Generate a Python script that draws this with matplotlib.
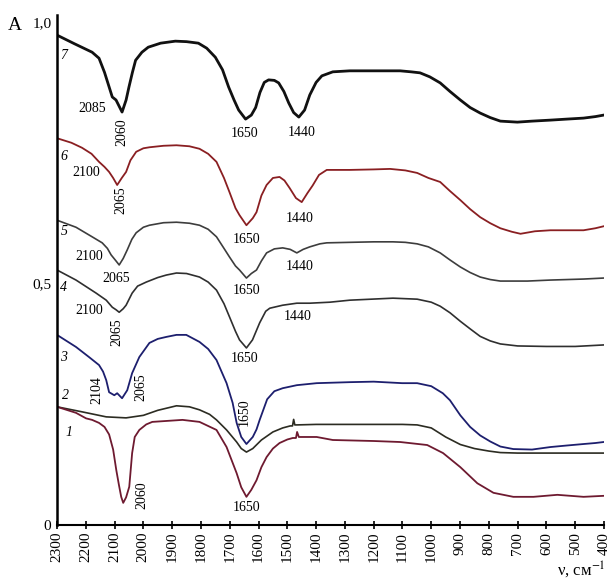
import matplotlib.pyplot as plt
import numpy as np

plt.rcParams['font.family'] = ['Liberation Serif', 'DejaVu Serif']
plt.rcParams['mathtext.fontset'] = 'stix'

# spectra: wavenumber (cm-1) and absorbance
wn7 = [2300, 2240, 2178, 2154, 2135, 2119, 2108, 2095, 2074, 2060, 2050, 2038, 2027, 2005, 1983,
       1940, 1889, 1850, 1809, 1780, 1750, 1725, 1704, 1685, 1669, 1645, 1625, 1610, 1595, 1580,
       1565, 1545, 1530, 1512, 1495, 1478, 1460, 1440, 1422, 1400, 1380, 1342, 1283, 1200, 1108,
       1070, 1039, 1005, 969, 935, 899, 865, 830, 795, 760, 701, 650, 586, 530, 471, 430, 401]
a7 = [.974, .957, .940, .928, .900, .871, .851, .845, .821, .845, .871, .900, .924, .940, .950,
      .958, .962, .961, .958, .948, .930, .905, .871, .845, .825, .807, .815, .830, .860, .880,
      .885, .884, .879, .862, .839, .820, .811, .825, .855, .880, .893, .901, .903, .903, .903,
      .901, .899, .891, .879, .862, .845, .830, .819, .810, .803, .801, .803, .805, .807, .809, .812, .815]

wn6 = [2300, 2250, 2213, 2180, 2154, 2135, 2119, 2105, 2091, 2075, 2060, 2045, 2025, 2000, 1979,
       1930, 1885, 1840, 1805, 1775, 1746, 1720, 1701, 1680, 1666, 1642, 1620, 1607, 1590, 1572,
       1550, 1527, 1510, 1492, 1470, 1450, 1430, 1412, 1390, 1363, 1283, 1200, 1143, 1090, 1049,
       1010, 969, 935, 899, 865, 830, 795, 760, 720, 690, 640, 586, 530, 471, 430, 401]
a6 = [.769, .760, .750, .738, .722, .712, .702, .690, .676, .690, .702, .725, .742, .749, .751,
      .754, .755, .753, .748, .738, .722, .690, .662, .630, .616, .596, .610, .622, .655, .676,
      .690, .692, .685, .670, .650, .642, .660, .675, .696, .706, .706, .707, .708, .705, .700,
      .690, .682, .664, .646, .628, .612, .600, .590, .583, .579, .584, .586, .586, .586, .590, .594]

wn5 = [2300, 2234, 2178, 2143, 2125, 2112, 2095, 2084, 2070, 2056, 2040, 2025, 2000, 1979, 1930,
       1885, 1840, 1805, 1775, 1746, 1720, 1701, 1680, 1666, 1642, 1625, 1607, 1590, 1572, 1545,
       1516, 1490, 1467, 1445, 1422, 1387, 1363, 1283, 1200, 1133, 1090, 1049, 1010, 969, 935,
       899, 865, 830, 795, 760, 666, 586, 471, 401]
a5 = [.606, .592, .573, .561, .550, .537, .525, .517, .530, .547, .568, .581, .592, .596, .601,
      .602, .600, .596, .588, .573, .550, .533, .515, .507, .491, .500, .507, .525, .541, .549,
      .551, .548, .541, .548, .553, .559, .561, .562, .563, .563, .562, .559, .553, .541, .527,
      .513, .502, .493, .488, .485, .485, .487, .489, .491]

wn4 = [2300, 2234, 2164, 2129, 2108, 2095, 2084, 2070, 2060, 2039, 2020, 1990, 1950, 1920, 1885,
       1850, 1805, 1775, 1746, 1720, 1701, 1680, 1666, 1642, 1621, 1596, 1575, 1561, 1516, 1467,
       1422, 1352, 1283, 1133, 1049, 1000, 969, 935, 899, 865, 830, 795, 760, 700, 600, 500, 401]
a4 = [.507, .487, .461, .447, .433, .428, .423, .430, .437, .461, .475, .483, .492, .497, .501,
      .500, .493, .483, .467, .440, .414, .385, .368, .352, .368, .402, .425, .431, .437, .441,
      .441, .443, .447, .451, .449, .443, .435, .422, .405, .390, .375, .366, .360, .356, .355, .355, .358]

wn3 = [2300, 2234, 2189, 2154, 2140, 2129, 2119, 2101, 2091, 2074, 2056, 2039, 2014, 1979, 1950,
       1920, 1885, 1851, 1805, 1775, 1746, 1711, 1690, 1676, 1660, 1642, 1620, 1607, 1596, 1570,
       1545, 1516, 1467, 1398, 1283, 1200, 1101, 1049, 1000, 960, 935, 899, 865, 830, 795, 760,
       715, 650, 586, 530, 471, 430, 401]
a3 = [.378, .354, .334, .318, .305, .288, .264, .258, .262, .252, .268, .302, .334, .362, .370,
      .374, .378, .378, .364, .350, .328, .282, .243, .203, .175, .161, .175, .190, .209, .250,
      .266, .272, .278, .282, .284, .285, .282, .282, .276, .262, .248, .218, .195, .178, .166, .156,
      .151, .150, .155, .158, .161, .163, .165]

wn2 = [2300, 2213, 2129, 2060, 2000, 1950, 1885, 1840, 1805, 1770, 1746, 1711, 1676, 1660, 1642,
       1620, 1590, 1550, 1516, 1490, 1482, 1478, 1474, 1467, 1400, 1283, 1100, 1049, 1000, 950,
       899, 850, 800, 760, 700, 600, 500, 401]
a2 = [.235, .225, .215, .213, .218, .228, .237, .235, .229, .220, .209, .189, .165, .152, .145,
      .152, .169, .185, .193, .197, .197, .210, .199, .199, .200, .200, .200, .199, .193, .175,
      .160, .152, .147, .144, .143, .143, .143, .143]

wn1 = [2300, 2234, 2199, 2178, 2154, 2135, 2119, 2105, 2094, 2085, 2077, 2070, 2060, 2049, 2039,
       2030, 2014, 1990, 1969, 1864, 1805, 1746, 1711, 1676, 1660, 1642, 1625, 1607, 1590, 1572,
       1550, 1527, 1500, 1481, 1470, 1466, 1460, 1398, 1342, 1200, 1108, 1014, 959, 899, 840, 784,
       715, 645, 562, 471, 401]
a1 = [.235, .223, .212, .209, .203, .195, .180, .150, .109, .080, .056, .044, .055, .076, .143,
      .175, .189, .200, .205, .209, .205, .189, .155, .103, .075, .056, .070, .089, .115, .135,
      .152, .163, .170, .173, .173, .185, .175, .175, .169, .167, .165, .159, .143, .115, .083, .064,
      .056, .056, .060, .056, .058]

spectra = [(wn7, a7), (wn6, a6), (wn5, a5), (wn4, a4), (wn3, a3), (wn2, a2), (wn1, a1)]
colors = ['#111111', '#8a1f22', '#3d3d3d', '#2f2f2f', '#1d1f6e', '#2c2c22', '#6e1a30']
widths = [2.0, 1.3, 1.2, 1.2, 1.3, 1.2, 1.3]

# curve numbers: text, x, y
num_txt = ['7', '6', '5', '4', '3', '2', '1']
num_x = [2276, 2276, 2276, 2276, 2276, 2269, 2258]
num_y = [0.934, 0.732, 0.583, 0.473, 0.334, 0.258, 0.183]

# band labels: text, x, y, rotation
band_txt = ['2085', '2060', '1650', '1440',
            '2100', '2065', '1650', '1440',
            '2100', '2065', '1650', '1440',
            '2100', '2065', '1650', '1440',
            '2104', '2065', '1650',
            '2060', '1650']
band_x = [2178, 2074, 1649, 1450,
          2199, 2077, 1642, 1457,
          2189, 2094, 1642, 1457,
          2189, 2091, 1649, 1464,
          2161, 2007, 1649,
          2004, 1642]
band_y = [0.829, 0.781, 0.779, 0.781,
          0.700, 0.646, 0.567, 0.610,
          0.533, 0.491, 0.467, 0.513,
          0.427, 0.384, 0.332, 0.414,
          0.268, 0.274, 0.225,
          0.060, 0.034]
band_rot = [0, 90, 0, 0,
            0, 90, 0, 0,
            0, 0, 0, 0,
            0, 90, 0, 0,
            90, 90, 90,
            90, 0]

xticks = list(range(2300, 399, -100))

fig = plt.figure(figsize=(6.1, 5.83), dpi=100)
ax = fig.add_axes([57 / 610, 58 / 583, 547 / 610, 510 / 583])

for (wn, a), c, lw in zip(spectra, colors, widths):
    ax.plot(wn, a, color=c, lw=lw, solid_joinstyle='round')

for t, x, y in zip(num_txt, num_x, num_y):
    ax.text(x, y, t, fontsize=10, style='italic', ha='center', va='center')

for t, x, y, r in zip(band_txt, band_x, band_y, band_rot):
    ax.text(x, y, t, fontsize=10, rotation=r, ha='center', va='center')

ax.set_xlim(2300, 400)
ax.set_ylim(0, 1.014)
ax.set_xticks(xticks)
ax.set_xticklabels([str(v) for v in xticks], rotation=90, fontsize=11)
ax.tick_params(axis='x', direction='inout', length=6, width=1.2, pad=2)
ax.set_yticks([0, 0.48, 1.0])
ax.set_yticklabels(['0', '0,5', '1,0'], fontsize=11)
ax.tick_params(axis='y', length=0, pad=4)
for s in ['top', 'right']:
    ax.spines[s].set_visible(False)
ax.spines['left'].set_linewidth(1.8)
ax.spines['bottom'].set_linewidth(1.5)

fig.text(15 / 610, 1 - 25 / 583, 'A', fontsize=14, ha='center', va='center')
fig.text(606 / 610, 1 - 570 / 583, 'ν, см$^{-1}$', fontsize=12, ha='right', va='center')

fig.savefig('out.png', dpi=100)
